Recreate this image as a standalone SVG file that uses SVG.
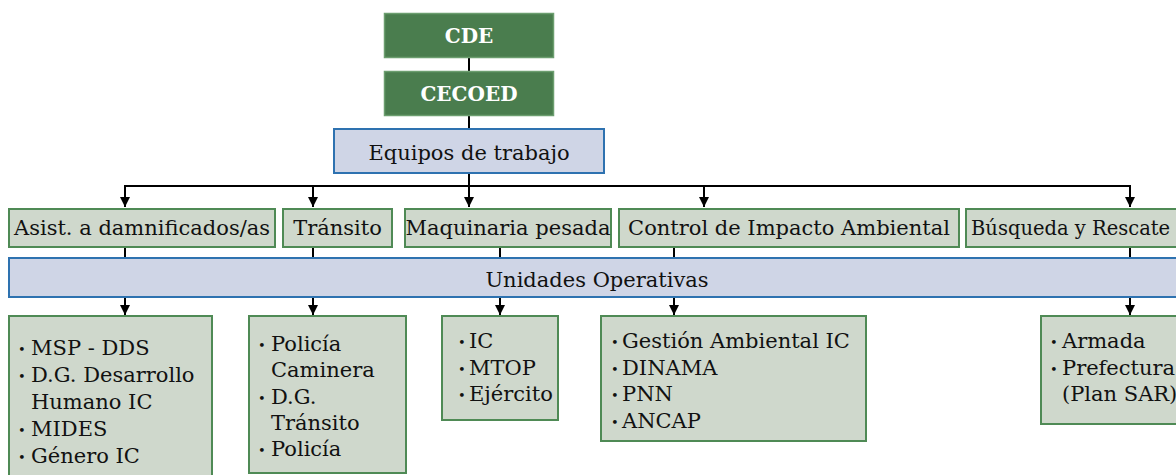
<svg xmlns="http://www.w3.org/2000/svg" width="1176" height="475" viewBox="0 0 1176 475">
<style>
.top{fill:#4a7d4e;stroke:#6c9e6f;stroke-width:1.5}
.blue{fill:#cfd5e6;stroke:#2e72b0;stroke-width:2}
.cat{fill:#cfd8cc;stroke:#4f8a55;stroke-width:2}
.tw{font-family:"DejaVu Serif","Liberation Serif",serif;font-weight:bold;font-size:20px;fill:#fff;text-anchor:middle}
.t{font-family:"DejaVu Serif","Liberation Serif",serif;font-size:21px;fill:#111}
.c{text-anchor:middle}
.b{font-size:13px}
.ln{stroke:#000;stroke-width:2;fill:none}
</style>
<defs>
<marker id="ah" viewBox="0 0 10 10" refX="10" refY="5" markerWidth="10" markerHeight="10" markerUnits="userSpaceOnUse" orient="auto">
<path d="M0,0 L10,5 L0,10 z" fill="#000"/>
</marker>
</defs>
<g id="connectors">
<line class="ln" x1="469" y1="57" x2="469" y2="72"/>
<line class="ln" x1="469" y1="115" x2="469" y2="129"/>
<line class="ln" x1="469" y1="173" x2="469" y2="186"/>
<polyline class="ln" points="125,207 125,186 1130,186 1130,207" marker-end="url(#ah)"/>
<line class="ln" x1="125" y1="186" x2="125" y2="207" marker-end="url(#ah)"/>
<line class="ln" x1="313" y1="186" x2="313" y2="207" marker-end="url(#ah)"/>
<line class="ln" x1="469" y1="186" x2="469" y2="207" marker-end="url(#ah)"/>
<line class="ln" x1="704" y1="186" x2="704" y2="207" marker-end="url(#ah)"/>
<line class="ln" x1="125" y1="247" x2="125" y2="258"/>
<line class="ln" x1="313" y1="247" x2="313" y2="258"/>
<line class="ln" x1="500" y1="247" x2="500" y2="258"/>
<line class="ln" x1="674" y1="247" x2="674" y2="258"/>
<line class="ln" x1="1130" y1="247" x2="1130" y2="258"/>
<line class="ln" x1="125" y1="297" x2="125" y2="315" marker-end="url(#ah)"/>
<line class="ln" x1="313" y1="297" x2="313" y2="315" marker-end="url(#ah)"/>
<line class="ln" x1="500" y1="297" x2="500" y2="315" marker-end="url(#ah)"/>
<line class="ln" x1="674" y1="297" x2="674" y2="315" marker-end="url(#ah)"/>
<line class="ln" x1="1130" y1="297" x2="1130" y2="315" marker-end="url(#ah)"/>
</g>
<g id="cde"><rect class="top" x="384.5" y="13.5" width="169" height="44"/><text class="tw" x="469" y="43">CDE</text></g>
<g id="cecoed"><rect class="top" x="384.5" y="71.5" width="169" height="44"/><text class="tw" x="469" y="101">CECOED</text></g>
<g id="equipos"><rect class="blue" x="334" y="129" width="270" height="44"/><text class="t c" x="469" y="160">Equipos de trabajo</text></g>
<g id="asist"><rect class="cat" x="9" y="209" width="266" height="38"/><text class="t c" x="142" y="235">Asist. a damnificados/as</text></g>
<g id="transito"><rect class="cat" x="283" y="209" width="109" height="38"/><text class="t c" x="337.5" y="235">Tránsito</text></g>
<g id="maquinaria"><rect class="cat" x="405" y="209" width="206" height="38"/><text class="t c" x="508" y="235">Maquinaria pesada</text></g>
<g id="control"><rect class="cat" x="619" y="209" width="340" height="38"/><text class="t c" x="789" y="235">Control de Impacto Ambiental</text></g>
<g id="busqueda"><rect class="cat" x="966" y="209" width="230" height="38"/><text class="t" x="971" y="235" style="font-size:19.5px">Búsqueda y Rescate</text></g>
<g id="unidades"><rect class="blue" x="9" y="258" width="1187" height="39"/><text class="t c" x="597" y="287">Unidades Operativas</text></g>
<g id="u-asist"><rect class="cat" x="9" y="316" width="203" height="180"/>
<text class="t"><tspan class="b" x="18" y="354">•</tspan><tspan x="31" y="355">MSP - DDS</tspan><tspan class="b" x="18" y="381">•</tspan><tspan x="31" y="382">D.G. Desarrollo</tspan><tspan x="31" y="409">Humano IC</tspan><tspan class="b" x="18" y="435">•</tspan><tspan x="31" y="436">MIDES</tspan><tspan class="b" x="18" y="462">•</tspan><tspan x="31" y="463">Género IC</tspan></text></g>
<g id="u-transito"><rect class="cat" x="249" y="316" width="157" height="157"/>
<text class="t"><tspan class="b" x="258" y="350">•</tspan><tspan x="271" y="351">Policía</tspan><tspan x="271" y="377">Caminera</tspan><tspan class="b" x="258" y="403">•</tspan><tspan x="271" y="404">D.G.</tspan><tspan x="271" y="430">Tránsito</tspan><tspan class="b" x="258" y="455">•</tspan><tspan x="271" y="456">Policía</tspan></text></g>
<g id="u-maquinaria"><rect class="cat" x="442" y="316" width="116" height="104"/>
<text class="t"><tspan class="b" x="458" y="347">•</tspan><tspan x="469" y="348">IC</tspan><tspan class="b" x="458" y="374">•</tspan><tspan x="469" y="375">MTOP</tspan><tspan class="b" x="458" y="400">•</tspan><tspan x="469" y="401">Ejército</tspan></text></g>
<g id="u-control"><rect class="cat" x="601" y="316" width="265" height="125"/>
<text class="t"><tspan class="b" x="611" y="347">•</tspan><tspan x="622" y="348">Gestión Ambiental IC</tspan><tspan class="b" x="611" y="374">•</tspan><tspan x="622" y="375">DINAMA</tspan><tspan class="b" x="611" y="400">•</tspan><tspan x="622" y="401">PNN</tspan><tspan class="b" x="611" y="427">•</tspan><tspan x="622" y="428">ANCAP</tspan></text></g>
<g id="u-busqueda"><rect class="cat" x="1041" y="316" width="160" height="108"/>
<text class="t"><tspan class="b" x="1050" y="347">•</tspan><tspan x="1062" y="348">Armada</tspan><tspan class="b" x="1050" y="374">•</tspan><tspan x="1062" y="375">Prefectura</tspan><tspan x="1062" y="401">(Plan SAR)</tspan></text></g>
</svg>
